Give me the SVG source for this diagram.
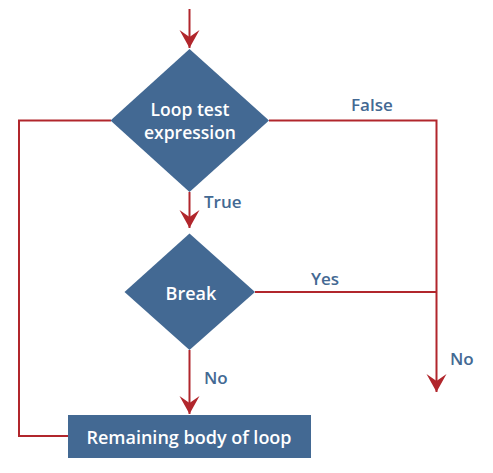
<svg xmlns="http://www.w3.org/2000/svg" width="493" height="473" viewBox="0 0 493 473">
<style>
.shape{fill:#436993}
.wire{fill:none;stroke:#b1262c;stroke-width:2}
.in{fill:#ffffff;font-family:"Open Sans",sans-serif;font-weight:600;font-size:18px;text-anchor:middle;dominant-baseline:central}
.lbl{fill:#436993;font-family:"Open Sans",sans-serif;font-weight:600;font-size:17px;dominant-baseline:central}
</style>
<defs>
<marker id="ah" markerUnits="userSpaceOnUse" markerWidth="20" markerHeight="22" viewBox="-18 -11 20 22" refX="0" refY="0" orient="auto">
<path d="M0,0 L-18,-10 L-11,0 L-18,10 Z" fill="#b1262c"/>
</marker>
</defs>
<g id="connectors">
<path class="wire" d="M189.5,9 V48" marker-end="url(#ah)"/>
<path class="wire" d="M189.5,192 V228" marker-end="url(#ah)"/>
<path class="wire" d="M189.5,350 V414" marker-end="url(#ah)"/>
<path class="wire" d="M269,120.5 H436.5 V392" marker-end="url(#ah)"/>
<path class="wire" d="M255,292 H436.5"/>
<path class="wire" d="M111,120.5 H19 V436 H68"/>
<text class="lbl" x="351" y="104">False</text>
<text class="lbl" x="204" y="201">True</text>
<text class="lbl" x="311" y="278">Yes</text>
<text class="lbl" x="204" y="377">No</text>
<text class="lbl" x="450" y="358">No</text>
</g>
<g id="loop-test">
<polygon class="shape" points="189.5,49 269,120.5 189.5,192 110.5,120.5"/>
<text class="in" x="190" y="108.5" style="font-size:17.5px">Loop test</text>
<text class="in" x="190" y="132" style="font-size:17.5px">expression</text>
</g>
<g id="break">
<polygon class="shape" points="189.5,233.5 255,292 189.5,350 124.5,292"/>
<text class="in" x="191" y="293">Break</text>
</g>
<g id="remaining-body">
<rect class="shape" x="68" y="415" width="243" height="43"/>
<text class="in" x="189" y="436.5">Remaining body of loop</text>
</g>
</svg>
